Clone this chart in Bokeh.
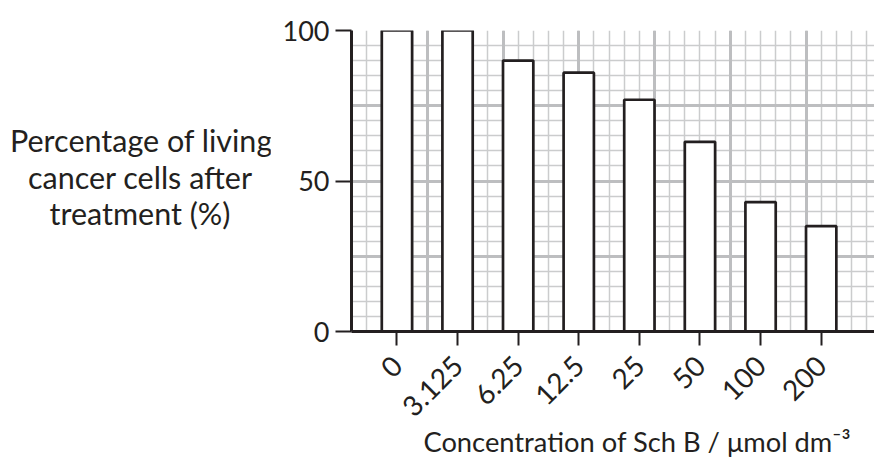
import numpy as np
from bokeh.plotting import figure
from bokeh.models import Range1d, FixedTicker, Grid, Div
from bokeh.layouts import row, column
from bokeh.embed import file_html
from bokeh.resources import INLINE

concentrations = ["0", "3.125", "6.25", "12.5", "25", "50", "100", "200"]
living_pct = [100, 100, 90, 86, 77, 63, 43, 35]
y_ticks = [0, 50, 100]
y_title_lines = ["Percentage of living", "cancer cells after", "treatment (%)"]
x_title = "Concentration of Sch B / \u03bcmol dm\u207b\u00b3"

FONT = "Lato"
INK = "#231f20"

n = len(concentrations)
x_pos = [0.75 + i for i in range(n)]

DIV_W = 270
FIG_H = 428
p = figure(width=874 - DIV_W, height=FIG_H, output_backend="svg", toolbar_location=None,
           x_range=Range1d(0, 8.63), y_range=Range1d(0, 100),
           min_border_left=351 - DIV_W, min_border_top=30,
           min_border_bottom=FIG_H - 331, min_border_right=0, margin=0)
p.outline_line_color = None
p.background_fill_color = "white"
p.border_fill_color = "white"
p.xgrid.grid_line_color = None
p.ygrid.grid_line_color = None

# graph-paper grid
minor_x = list(np.arange(0, 8.7, 0.25))
major_x = list(np.arange(0, 8.7, 1.25))
minor_y = list(range(0, 101, 5))
major_y = list(range(0, 101, 25))
p.add_layout(Grid(dimension=0, ticker=FixedTicker(ticks=minor_x),
                  grid_line_color="#cbcccd", grid_line_width=1.5))
p.add_layout(Grid(dimension=1, ticker=FixedTicker(ticks=minor_y),
                  grid_line_color="#cbcccd", grid_line_width=1.5))
p.add_layout(Grid(dimension=0, ticker=FixedTicker(ticks=major_x),
                  grid_line_color="#bdbec0", grid_line_width=3))
p.add_layout(Grid(dimension=1, ticker=FixedTicker(ticks=major_y),
                  grid_line_color="#bdbec0", grid_line_width=3))

p.vbar(x=x_pos, top=living_pct, width=0.5, bottom=0,
       fill_color="white", line_color=INK, line_width=2.7)

# x axis
p.xaxis.ticker = FixedTicker(ticks=x_pos)
p.xaxis.major_label_overrides = {x: c for x, c in zip(x_pos, concentrations)}
p.xaxis.major_label_orientation = np.pi / 4
p.xaxis.axis_line_color = INK
p.xaxis.axis_line_width = 3
p.xaxis.major_tick_out = 14
p.xaxis.major_tick_in = 0
p.xaxis.major_tick_line_width = 2
p.xaxis.major_tick_line_color = INK
p.xaxis.minor_tick_line_color = None
p.xaxis.major_label_text_font = FONT
p.xaxis.major_label_text_font_size = "28px"
p.xaxis.major_label_text_color = INK
p.xaxis.major_label_standoff = 15

# y axis
p.yaxis.ticker = FixedTicker(ticks=y_ticks)
p.yaxis.axis_line_color = INK
p.yaxis.axis_line_width = 3
p.yaxis.major_tick_out = 16
p.yaxis.major_tick_in = 0
p.yaxis.major_tick_line_width = 2
p.yaxis.major_tick_line_color = INK
p.yaxis.minor_tick_line_color = None
p.yaxis.major_label_text_font = FONT
p.yaxis.major_label_text_font_size = "27px"
p.yaxis.major_label_text_color = INK
p.yaxis.major_label_standoff = 6

ytitle = Div(
    text=('<div style="box-sizing:border-box; padding-top:122px; padding-left:10px; '
          'width:%dpx; font-family:Lato; font-size:30.5px; line-height:36.5px; '
          'text-align:center; color:%s; white-space:nowrap;">' % (DIV_W, INK))
    + "<br>".join(y_title_lines) + "</div>",
    width=DIV_W, height=FIG_H, margin=0)

xtitle = Div(
    text=('<div style="box-sizing:border-box; padding-left:400px; width:874px; '
          'font-family:Lato; font-size:27.3px; line-height:28px; text-align:center; '
          'color:%s; white-space:nowrap;">%s</div>' % (INK, x_title)),
    width=874, height=459 - FIG_H, margin=0)

layout = column(row(ytitle, p, spacing=0, margin=0), xtitle, spacing=0, margin=0)
open("out.html", "w").write(file_html(layout, INLINE))
